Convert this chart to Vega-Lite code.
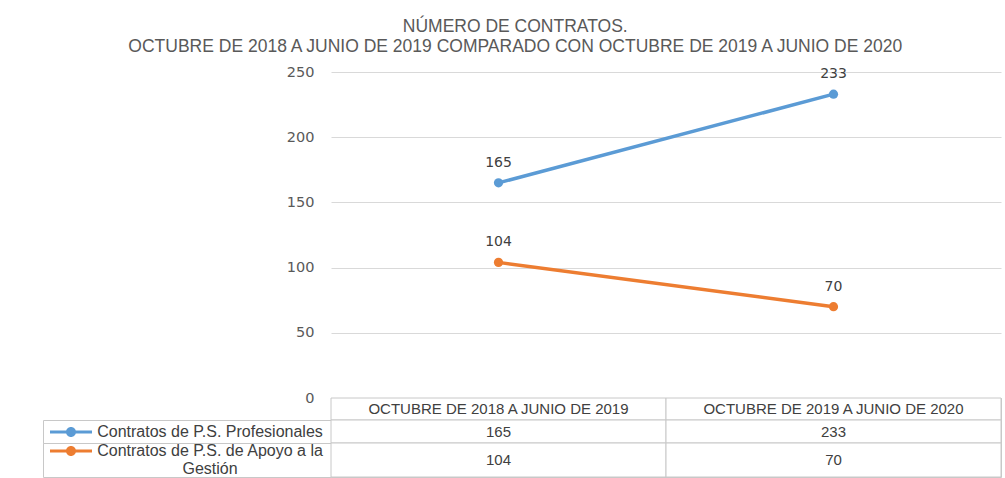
{
  "$schema": "https://vega.github.io/schema/vega-lite/v6.json",
  "background": "white",
  "padding": {"left": 42, "top": 18, "right": 5, "bottom": 0},
  "title": {
    "text": ["NÚMERO DE CONTRATOS.", "OCTUBRE DE 2018 A JUNIO DE 2019 COMPARADO CON OCTUBRE DE 2019 A JUNIO DE 2020"],
    "font": "Liberation Sans",
    "fontSize": 17.5,
    "fontWeight": "normal",
    "color": "#595959",
    "lineHeight": 19.5,
    "anchor": "middle",
    "dx": -7,
    "offset": 9
  },
  "datasets": {
    "contratos": [
      {"periodo": "OCTUBRE DE 2018 A JUNIO DE 2019", "serie": "Contratos de P.S. Profesionales", "contratos": 165},
      {"periodo": "OCTUBRE DE 2019 A JUNIO DE 2020", "serie": "Contratos de P.S. Profesionales", "contratos": 233},
      {"periodo": "OCTUBRE DE 2018 A JUNIO DE 2019", "serie": "Contratos de P.S. de Apoyo a la Gestión", "contratos": 104},
      {"periodo": "OCTUBRE DE 2019 A JUNIO DE 2020", "serie": "Contratos de P.S. de Apoyo a la Gestión", "contratos": 70}
    ]
  },
  "columns": 2,
  "spacing": 0,
  "bounds": "flush",
  "concat": [
    {
      "width": 288, "height": 326,
      "view": {"stroke": null},
      "data": {"values": [{}]},
      "mark": {"type": "text", "text": ""},
      "encoding": {}
    },
    {
      "width": 670, "height": 326,
      "view": {"stroke": null},
      "data": {"name": "contratos"},
      "encoding": {
        "x": {"field": "periodo", "type": "nominal", "scale": {"type": "point", "padding": 0.5}, "axis": null},
        "y": {"field": "contratos", "type": "quantitative", "scale": {"domain": [0, 250], "nice": false},
          "axis": {"values": [0, 50, 100, 150, 200, 250], "title": null, "domain": false, "ticks": false, "labelPadding": 17,
            "labelFont": "DejaVu Sans", "labelFontSize": 14.5, "labelColor": "#595959", "gridColor": "#D9D9D9", "gridWidth": 1}},
        "color": {"field": "serie", "type": "nominal",
          "scale": {"domain": ["Contratos de P.S. Profesionales", "Contratos de P.S. de Apoyo a la Gestión"], "range": ["#5B9BD5", "#ED7D31"]},
          "legend": {
            "orient": "none", "legendX": 20, "legendY": 352, "direction": "vertical", "title": null, "padding": 0,
            "symbolType": "M-4.2,-0.3H4.2V0.3H-4.2Z M1,0A1,1,0,1,1,-1,0A1,1,0,1,1,1,0Z",
            "symbolSize": 100, "symbolStrokeWidth": 0,
            "labelFont": "Liberation Sans", "labelFontSize": 16, "labelColor": "#404040",
            "labelAlign": "center", "labelOffset": 131, "labelLimit": 0, "rowPadding": 3,
            "labelExpr": "datum.label == 'Contratos de P.S. de Apoyo a la Gestión' ? ['Contratos de P.S. de Apoyo a la', 'Gestión'] : datum.label"
          }
        }
      },
      "layer": [
        {"mark": {"type": "point", "filled": true, "size": 85, "opacity": 1}},
        {"mark": {"type": "line", "strokeWidth": 3.5}},
        {"mark": {"type": "text", "dy": -20, "font": "DejaVu Sans", "fontSize": 14, "color": "#404040"},
          "encoding": {"text": {"field": "contratos", "type": "quantitative"}, "color": {"value": "#404040"}}}
      ]
    },
    {
      "width": 288, "height": 22,
      "view": {"stroke": null},
      "data": {"values": [{}]},
      "mark": {"type": "text", "text": ""},
      "encoding": {}
    },
    {
      "width": 670, "height": 22,
      "view": {"stroke": "#C8C8C8"},
      "data": {"name": "contratos"},
      "transform": [{"filter": "datum.serie == 'Contratos de P.S. Profesionales'"}],
      "encoding": {
        "x": {"field": "periodo", "type": "nominal", "scale": {"type": "band", "paddingInner": 0, "paddingOuter": 0}, "axis": null}
      },
      "layer": [
        {"mark": {"type": "rect", "fill": "white", "stroke": "#C8C8C8", "strokeWidth": 1}},
        {"mark": {"type": "text", "font": "Liberation Sans", "fontSize": 15, "color": "#404040"},
          "encoding": {"text": {"field": "periodo", "type": "nominal"}}}
      ]
    },
    {
      "width": 288, "height": 23,
      "view": {"stroke": "#C8C8C8"},
      "data": {"values": [{}]},
      "mark": {"type": "text", "text": ""},
      "encoding": {}
    },
    {
      "width": 670, "height": 23,
      "view": {"stroke": "#C8C8C8"},
      "data": {"name": "contratos"},
      "transform": [{"filter": "datum.serie == 'Contratos de P.S. Profesionales'"}],
      "encoding": {
        "x": {"field": "periodo", "type": "nominal", "scale": {"type": "band", "paddingInner": 0, "paddingOuter": 0}, "axis": null}
      },
      "layer": [
        {"mark": {"type": "rect", "fill": "white", "stroke": "#C8C8C8", "strokeWidth": 1}},
        {"mark": {"type": "text", "font": "Liberation Sans", "fontSize": 15, "color": "#404040"},
          "encoding": {"text": {"field": "contratos", "type": "quantitative"}}}
      ]
    },
    {
      "width": 288, "height": 34,
      "view": {"stroke": "#C8C8C8"},
      "data": {"values": [{}]},
      "mark": {"type": "text", "text": ""},
      "encoding": {}
    },
    {
      "width": 670, "height": 34,
      "view": {"stroke": "#C8C8C8"},
      "data": {"name": "contratos"},
      "transform": [{"filter": "datum.serie == 'Contratos de P.S. de Apoyo a la Gestión'"}],
      "encoding": {
        "x": {"field": "periodo", "type": "nominal", "scale": {"type": "band", "paddingInner": 0, "paddingOuter": 0}, "axis": null}
      },
      "layer": [
        {"mark": {"type": "rect", "fill": "white", "stroke": "#C8C8C8", "strokeWidth": 1}},
        {"mark": {"type": "text", "font": "Liberation Sans", "fontSize": 15, "color": "#404040"},
          "encoding": {"text": {"field": "contratos", "type": "quantitative"}}}
      ]
    }
  ]
}
